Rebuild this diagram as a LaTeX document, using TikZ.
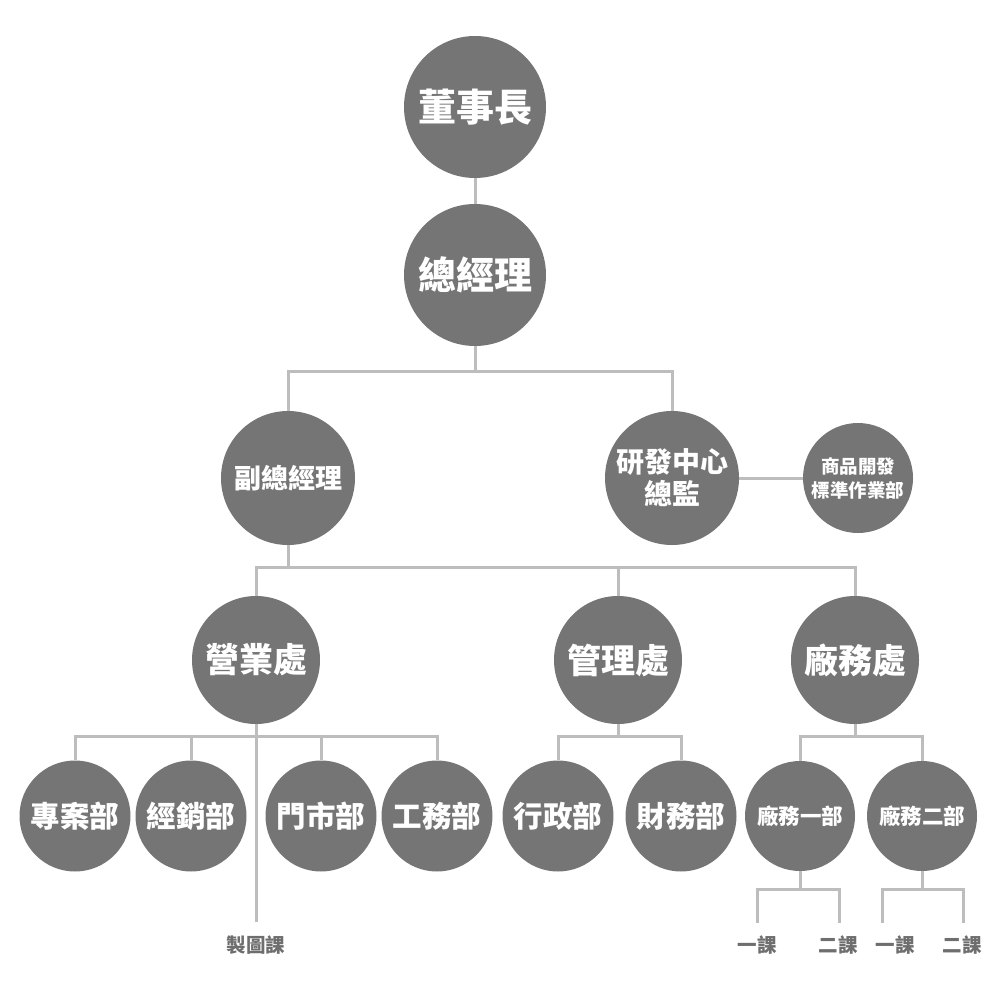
\documentclass[tikz,border=0pt]{standalone}
\usepackage{fontspec}
\setmainfont{Noto Sans CJK TC}
\tikzset{
  org/.style={circle, fill=cfill, draw=none, inner sep=0pt, text=white, align=center},
  conn/.style={draw=cline, line width=3pt},
  lbl/.style={text=clabel, inner sep=0pt, font=\bfseries\fontsize{19.5}{21}\selectfont}
}
\definecolor{cfill}{HTML}{757575}
\definecolor{cline}{HTML}{BDBDBD}
\definecolor{clabel}{HTML}{6E6E6E}
\begin{document}
\begin{tikzpicture}[x=1pt,y=-1pt]
\useasboundingbox (0,0) rectangle (1000,1000);
% top
\node[org, minimum size=142pt, font=\bfseries\fontsize{38}{40}\selectfont] (dsz) at (475,107) {董事長};
\node[org, minimum size=142pt, font=\bfseries\fontsize{38}{40}\selectfont] (zjl) at (475,275) {總經理};
\node[org, minimum size=134pt, font=\bfseries\fontsize{27}{30}\selectfont] (fzjl) at (288,478) {副總經理};
\node[org, minimum size=134pt, font=\bfseries\fontsize{28}{32}\selectfont] (yf) at (672,478) {研發中心\\總監};
\node[org, minimum size=110pt, font=\bfseries\fontsize{18.5}{24}\selectfont] (sp) at (858,478) {商品開發\\標準作業部};
% second level
\node[org, minimum size=128pt, font=\bfseries\fontsize{34}{36}\selectfont] (yy) at (256,660) {營業處};
\node[org, minimum size=128pt, font=\bfseries\fontsize{34}{36}\selectfont] (gl) at (618,660) {管理處};
\node[org, minimum size=128pt, font=\bfseries\fontsize{34}{36}\selectfont] (cw) at (855,660) {廠務處};
% third level
\node[org, minimum size=111pt, font=\bfseries\fontsize{29.5}{32}\selectfont] (zab) at (75,816) {專案部};
\node[org, minimum size=111pt, font=\bfseries\fontsize{29.5}{32}\selectfont] (jxb) at (191,816) {經銷部};
\node[org, minimum size=111pt, font=\bfseries\fontsize{29.5}{32}\selectfont] (msb) at (321,816) {門市部};
\node[org, minimum size=111pt, font=\bfseries\fontsize{29.5}{32}\selectfont] (gwb) at (437,816) {工務部};
\node[org, minimum size=111pt, font=\bfseries\fontsize{29.5}{32}\selectfont] (xzb) at (558,816) {行政部};
\node[org, minimum size=111pt, font=\bfseries\fontsize{29.5}{32}\selectfont] (cwb) at (681,816) {財務部};
\node[org, minimum size=110pt, font=\bfseries\fontsize{21.5}{24}\selectfont] (cw1) at (800,816) {廠務一部};
\node[org, minimum size=110pt, font=\bfseries\fontsize{21.5}{24}\selectfont] (cw2) at (922,816) {廠務二部};
% labels
\node[lbl] (ztk) at (256,945) {製圖課};
\node[lbl] (k11) at (757,945) {一課};
\node[lbl] (k12) at (838,945) {二課};
\node[lbl] (k21) at (895,945) {一課};
\node[lbl] (k22) at (962,945) {二課};
% junctions
\coordinate (j1) at (475,371);
\coordinate (j2) at (288,567);
\coordinate (j3) at (256,736);
\coordinate (j4) at (618,736);
\coordinate (j5) at (855,736);
\coordinate (j6) at (800,889);
\coordinate (j7) at (922,889);
\coordinate (e0) at (256,922);
\coordinate (e11) at (757,923);
\coordinate (e12) at (839,923);
\coordinate (e21) at (882,923);
\coordinate (e22) at (963,923);
% connectors
\draw[conn] (dsz) -- (zjl);
\draw[conn] (zjl.south) -- (j1);
\draw[conn] (j1) -| (fzjl.north);
\draw[conn] (j1) -| (yf.north);
\draw[conn] (yf) -- (sp);
\draw[conn] (fzjl.south) -- (j2);
\draw[conn] (j2) -| (yy.north);
\draw[conn] (j2) -| (gl.north);
\draw[conn] (j2) -| (cw.north);
\draw[conn] (yy.south) -- (e0);
\draw[conn] (j3) -| (zab.north);
\draw[conn] (j3) -| (jxb.north);
\draw[conn] (j3) -| (msb.north);
\draw[conn] (j3) -| (gwb.north);
\draw[conn] (gl.south) -- (j4);
\draw[conn] (j4) -| (xzb.north);
\draw[conn] (j4) -| (cwb.north);
\draw[conn] (cw.south) -- (j5);
\draw[conn] (j5) -| (cw1.north);
\draw[conn] (j5) -| (cw2.north);
\draw[conn] (cw1.south) -- (j6);
\draw[conn] (j6) -| (e11);
\draw[conn] (j6) -| (e12);
\draw[conn] (cw2.south) -- (j7);
\draw[conn] (j7) -| (e21);
\draw[conn] (j7) -| (e22);
\end{tikzpicture}
\end{document}
